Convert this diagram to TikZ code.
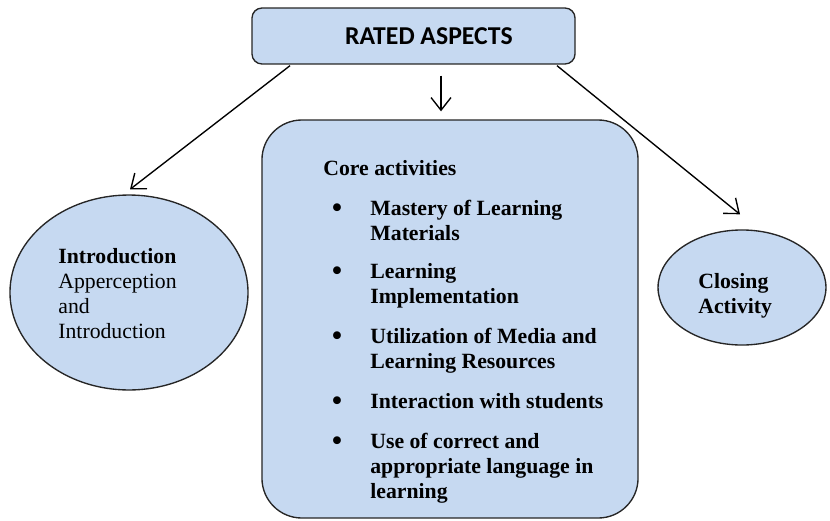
\documentclass[tikz,border=0pt]{standalone}
\usepackage{fontspec}
\setmainfont{Liberation Serif}
\newfontfamily\calib{Carlito}
\usetikzlibrary{shapes.geometric,arrows.meta}
\definecolor{boxblue}{RGB}{198,217,241}
\newcommand{\mylines}[1]{\parbox[t]{8cm}{\raggedright\fontsize{12}{13.8}\selectfont #1}}
\begin{document}
\begin{tikzpicture}[x=0.552pt,y=-0.552pt,
  box/.style={draw=black!85,line width=0.75pt,fill=boxblue},
  arr/.style={-{Straight Barb[length=7pt,width=11pt]},line width=0.75pt},
  txt/.style={anchor=base west,inner sep=0pt},
  bulstyle/.style={anchor=base west,inner sep=0pt,font=\fontsize{18}{18}\selectfont}]
\useasboundingbox (0,0) rectangle (830,520);
\node[box,rounded corners=5.5pt,minimum width=178.3pt,minimum height=30.9pt,
  font=\calib\bfseries\fontsize{14.2}{16}\selectfont] (top) at (413.5,36) {\hspace*{17pt}RATED ASPECTS};
\node[box,rounded corners=22pt,minimum width=207.6pt,minimum height=219.7pt] (core) at (450,319) {};
\node[box,ellipse,inner sep=0pt,minimum width=131.4pt,minimum height=107.6pt] (intro) at (129,292.5) {};
\node[box,ellipse,inner sep=0pt,minimum width=92.7pt,minimum height=63.5pt] (close) at (742,287.5) {};
% arrows
\draw[arr] ([shift={(-123.5,1)}]top.south) -- ([shift={(1,-5)}]intro.north);
\draw[arr] ([shift={(27.5,11)}]top.south) -- ([shift={(-9,-8)}]core.north);
\draw[arr] ([shift={(143.5,1)}]top.south) -- ([shift={(-2,-15)}]close.north);
% intro text
\node[txt] (introtxt) at (58,263) {\mylines{\textbf{Introduction}\\Apperception\\and\\Introduction}};
% closing text
\node[txt] (closetxt) at (698,288) {\mylines{\textbf{Closing}\\\textbf{Activity}}};
% core text
\node[txt] (corehead) at (323,175) {\mylines{\textbf{Core activities}}};
\foreach \y/\t [count=\i] in {215/{Mastery of Learning\\Materials},
  278/{Learning\\Implementation},
  343/{Utilization of Media and\\Learning Resources},
  408/{Interaction with students},
  448/{Use of correct and\\appropriate language in\\learning}}{
  \node[bulstyle] (bul\i) at (331,\y+3.5) {\textbullet};
  \node[txt] (item\i) at (370,\y) {\mylines{\textbf{\t}}};
}
\end{tikzpicture}
\end{document}
